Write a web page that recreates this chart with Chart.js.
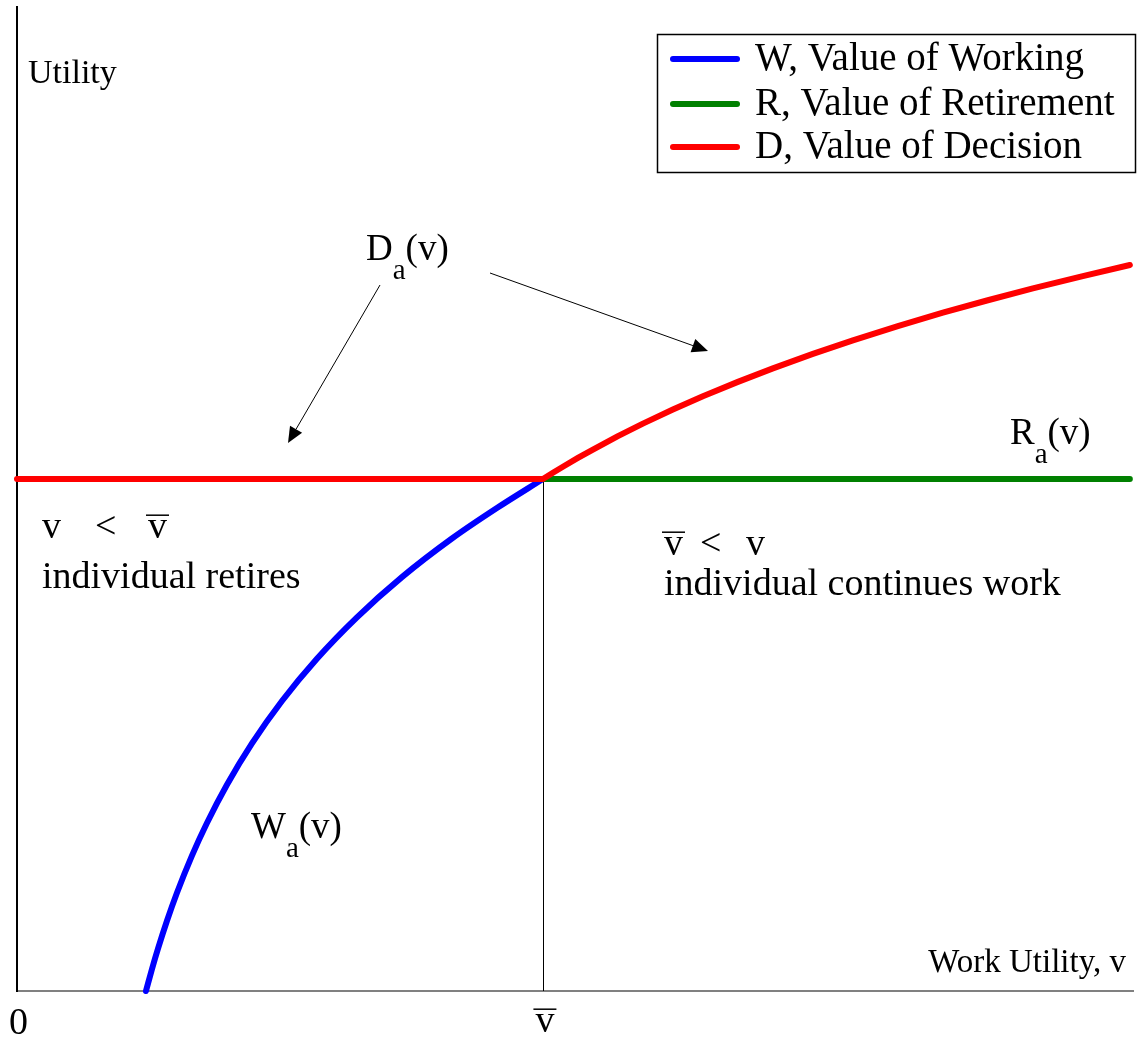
<!DOCTYPE html>
<html><head><meta charset="utf-8">
<script src="https://cdn.jsdelivr.net/npm/chart.js@4.4.0/dist/chart.umd.min.js"></script>
<style>html,body{margin:0;padding:0;background:#fff;overflow:hidden;}</style>
</head><body>
<canvas id="c" width="1140" height="1037" style="display:block;width:1140px;height:1037px"></canvas>
<script>
// ---- data ----
const seriesLabels = ['W, Value of Working', 'R, Value of Retirement', 'D, Value of Decision'];
const seriesColors = ['#0000ff', '#008000', '#ff0000'];
const workV = [0.2452, 0.2567, 0.2681, 0.2852, 0.3042, 0.3327, 0.3612, 0.3992, 0.4468, 0.5038, 0.5703, 0.6464, 0.7319, 0.8270, 0.9125, 1.0];
const workU = [0.0, 0.043, 0.0826, 0.1371, 0.1918, 0.2645, 0.3281, 0.4029, 0.4836, 0.5664, 0.6490, 0.7299, 0.8084, 0.8838, 0.9434, 1.0];
const retireV = [1.0, 2.116];
const retireU = [1.0, 1.0];
const decisionV = [0.0, 1.0, 1.0190, 1.0380, 1.0665, 1.0951, 1.1426, 1.1901, 1.2471, 1.3042, 1.3707, 1.4373, 1.5133, 1.5894, 1.6749, 1.7605, 1.8460, 1.9316, 2.0266, 2.1160];
const decisionU = [1.0, 1.0, 1.0122, 1.0240, 1.0412, 1.0576, 1.0838, 1.1082, 1.1357, 1.1617, 1.1898, 1.2162, 1.2445, 1.2709, 1.2986, 1.3248, 1.3492, 1.3723, 1.3965, 1.4180];
const vBar = 1.0;
const rLevel = 1.0;
const xMax = 2.122, yMax = 1.922;

const FONT = '"Liberation Serif","Times New Roman",serif';
const pts = (xs, ys) => xs.map((x, i) => ({x, y: ys[i]}));

function drawSub(ctx, x, y, main, sub, rest, size) {
  ctx.font = size + 'px ' + FONT;
  ctx.fillText(main, x, y);
  let w = ctx.measureText(main).width;
  ctx.font = Math.round(size * 0.78) + 'px ' + FONT;
  ctx.fillText(sub, x + w, y + size * 0.5);
  let w2 = ctx.measureText(sub).width;
  ctx.font = size + 'px ' + FONT;
  ctx.fillText(rest, x + w + w2, y);
}
function vbarText(ctx, x, y, size) {
  ctx.font = size + 'px ' + FONT;
  ctx.fillText('v', x, y);
  const w = ctx.measureText('v').width;
  ctx.save(); ctx.lineWidth = 1.5; ctx.strokeStyle = '#000';
  ctx.beginPath(); ctx.moveTo(x - 2, y - size * 0.6); ctx.lineTo(x + w + 2, y - size * 0.6); ctx.stroke();
  ctx.restore();
}
function arrow(ctx, x1, y1, x2, y2) {
  ctx.save();
  ctx.strokeStyle = '#000'; ctx.fillStyle = '#000'; ctx.lineWidth = 1;
  const a = Math.atan2(y2 - y1, x2 - x1), L = 16, W = 7;
  const bx = x2 - L * Math.cos(a), by = y2 - L * Math.sin(a);
  ctx.beginPath(); ctx.moveTo(x1, y1); ctx.lineTo(bx, by); ctx.stroke();
  ctx.beginPath(); ctx.moveTo(x2, y2);
  ctx.lineTo(bx + W * Math.sin(a), by - W * Math.cos(a));
  ctx.lineTo(bx - W * Math.sin(a), by + W * Math.cos(a));
  ctx.closePath(); ctx.fill();
  ctx.restore();
}

const annot = {
  id: 'annot',
  beforeDatasetsDraw(chart) {
    const {ctx, scales: {x, y}} = chart;
    ctx.save();
    ctx.strokeStyle = '#000'; ctx.lineWidth = 1;
    const px = Math.round(x.getPixelForValue(vBar)) + 0.5;
    ctx.beginPath(); ctx.moveTo(px, y.getPixelForValue(0)); ctx.lineTo(px, y.getPixelForValue(rLevel)); ctx.stroke();
    ctx.restore();
  },
  afterDraw(chart) {
    const {ctx, scales: {x, y}} = chart;
    ctx.save();
    ctx.fillStyle = '#000';
    ctx.textBaseline = 'alphabetic';
    ctx.textAlign = 'left';
    // axis titles
    ctx.font = '34px ' + FONT;
    ctx.fillText('Utility', 28, 83);
    ctx.textAlign = 'right';
    ctx.font = '33px ' + FONT;
    ctx.fillText('Work Utility, v', 1126, 972);
    ctx.textAlign = 'left';
    // tick-like labels
    ctx.font = '38px ' + FONT;
    ctx.fillText('0', 9, 1034);
    const pxBar = x.getPixelForValue(vBar);
    const vw = ctx.measureText('v').width;
    vbarText(ctx, pxBar - vw / 2 + 2, 1032, 38);
    // region texts
    ctx.font = '38px ' + FONT;
    ctx.fillText('v', 42, 538);
    ctx.fillText('<', 95, 538);
    vbarText(ctx, 148, 538, 38);
    ctx.font = '38px ' + FONT;
    ctx.fillText('individual retires', 42, 588);
    vbarText(ctx, 664, 555, 38);
    ctx.font = '38px ' + FONT;
    ctx.fillText('<', 700, 555);
    ctx.fillText('v', 746, 555);
    ctx.fillText('individual continues work', 664, 595);
    // curve labels
    drawSub(ctx, 366, 260, 'D', 'a', '(v)', 37);
    drawSub(ctx, 251, 838, 'W', 'a', '(v)', 37);
    drawSub(ctx, 1010, 444, 'R', 'a', '(v)', 37);
    // arrows
    arrow(ctx, 380, 285, 288, 443);
    arrow(ctx, 490, 273, 708, 351);
    // legend
    ctx.lineWidth = 1.5; ctx.strokeStyle = '#000';
    ctx.strokeRect(657.5, 34.5, 478, 138);
    const rows = [59, 104, 147];
    chart.data.datasets.forEach((ds, i) => {
      ctx.save();
      ctx.strokeStyle = ds.borderColor; ctx.lineWidth = 6; ctx.lineCap = 'round';
      ctx.beginPath(); ctx.moveTo(673, rows[i]); ctx.lineTo(737, rows[i]); ctx.stroke();
      ctx.restore();
      ctx.font = '39px ' + FONT; ctx.textBaseline = 'middle';
      ctx.fillText(ds.label, 755, rows[i] + 1);
    });
    ctx.restore();
  }
};

const common = {borderWidth: 6, pointRadius: 0, borderCapStyle: 'round', borderJoinStyle: 'round', fill: false, clip: false};
new Chart(document.getElementById('c'), {
  type: 'line',
  data: {
    datasets: [
      Object.assign({label: seriesLabels[0], data: pts(workV, workU), borderColor: seriesColors[0], order: 3, cubicInterpolationMode: 'monotone'}, common),
      Object.assign({label: seriesLabels[1], data: pts(retireV, retireU), borderColor: seriesColors[1], order: 2, tension: 0}, common),
      Object.assign({label: seriesLabels[2], data: pts(decisionV, decisionU), borderColor: seriesColors[2], order: 1, tension: 0}, common)
    ]
  },
  options: {
    responsive: false,
    animation: false,
    devicePixelRatio: 1,
    layout: {padding: {left: 17, right: 7, top: 7, bottom: 46}},
    plugins: {legend: {display: false}, tooltip: {enabled: false}},
    scales: {
      x: {type: 'linear', min: 0, max: xMax, grid: {display: false, drawTicks: false}, ticks: {display: false}, border: {display: true, color: '#808080', width: 2}},
      y: {type: 'linear', min: 0, max: yMax, grid: {display: false, drawTicks: false}, ticks: {display: false}, border: {display: true, color: '#000', width: 2}}
    }
  },
  plugins: [annot]
});
</script>
</body></html>
